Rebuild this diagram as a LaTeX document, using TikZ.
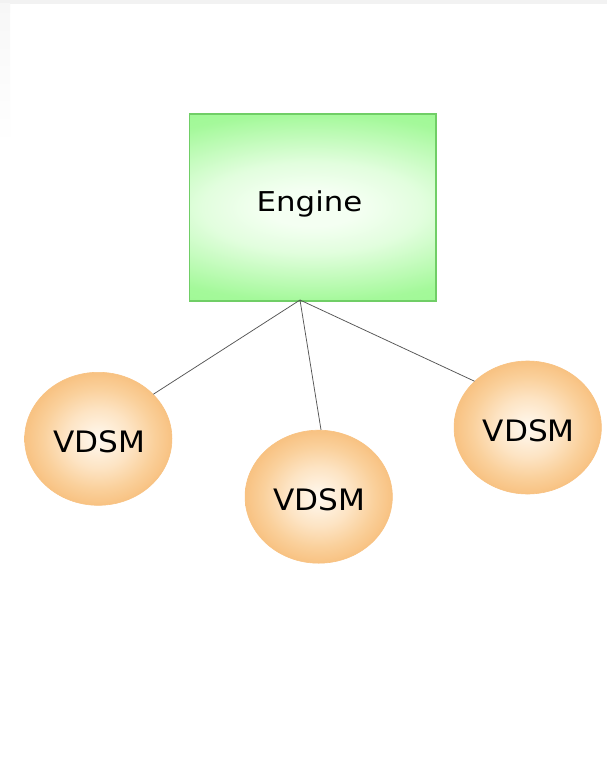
\documentclass[tikz,border=0pt]{standalone}
\usepackage{fontspec}
\setmainfont{DejaVu Sans}
\usetikzlibrary{shapes.geometric}

\definecolor{greenCore}{RGB}{244,255,242}
\definecolor{greenSoft}{RGB}{226,254,222}
\definecolor{greenRim}{RGB}{164,249,154}
\definecolor{greenCorner}{RGB}{154,247,144}
\definecolor{greenLine}{RGB}{112,206,102}
\definecolor{peachEdge}{RGB}{248,194,130}
\definecolor{peachOuter}{RGB}{250,208,155}
\definecolor{peachMid}{RGB}{253,228,196}
\definecolor{peachCore}{RGB}{255,249,240}
\definecolor{linkGray}{RGB}{85,85,85}
\definecolor{paneGray}{RGB}{242,242,242}
\definecolor{paneSide}{RGB}{247,247,247}

% soft glow for the VDSM discs: light core, peach rim
\pgfdeclareradialshading{vdsmglow}{\pgfpoint{0bp}{0bp}}{%
  color(0bp)=(peachCore); color(11bp)=(peachMid);
  color(19bp)=(peachOuter); color(25bp)=(peachEdge);
  color(50bp)=(peachEdge)}

% light centre fading to green towards the edges of the engine box
\pgfdeclareradialshading{engineglow}{\pgfpoint{0bp}{0bp}}{%
  color(0bp)=(greenCore); color(5bp)=(greenCore);
  color(12bp)=(greenSoft); color(25bp)=(greenRim);
  color(34bp)=(greenCorner); color(50bp)=(greenCorner)}

\begin{document}
\begin{tikzpicture}[x=1pt,y=-1pt,
  enginebox/.style={rectangle, draw=greenLine, line width=1.1pt,
    minimum width=246.5pt, minimum height=187pt, inner sep=0pt,
    path picture={\shade[shading=engineglow]
      ([xshift=-230pt,yshift=-94pt]path picture bounding box.center) rectangle
      ([xshift=230pt,yshift=94pt]path picture bounding box.center);}},
  vdsmdisc/.style={ellipse, draw=peachEdge, line width=0.6pt,
    shading=vdsmglow, minimum width=147.3pt, minimum height=133pt,
    inner sep=0pt},
  caption/.style={anchor=base, inner sep=0pt, text=black},
  enginefont/.style={font=\fontsize{27.3}{33}\selectfont},
  vdsmfont/.style={font=\fontsize{29.5}{35}\selectfont},
  link/.style={draw=linkGray, line width=0.75pt}]

\useasboundingbox (0,0) rectangle (607,773);
\fill[white] (0,0) rectangle (607,773);

% window edges along the top and left
\fill[paneGray] (0,0) rectangle (607,4);
\shade[top color=paneSide, bottom color=white] (0,4) rectangle (10,145);

% engine box
\node[enginebox] (engine) at (312.7,207.5) {};
\node[caption, enginefont] (enginetext) at (309.5,211.7) {\scalebox{1.13}[1]{Engine}};

% hosts
\node[vdsmdisc] (v1) at (98.3,438.8) {};
\node[vdsmdisc] (v2) at (318.7,496.7) {};
\node[vdsmdisc] (v3) at (527.7,427.5) {};

\node[caption, vdsmfont] (v1text) at (99.0,452.0) {\scalebox{1.056}[1]{VDSM}};
\node[caption, vdsmfont] (v2text) at (319.2,510.7) {\scalebox{1.056}[1]{VDSM}};
\node[caption, vdsmfont] (v3text) at (528.7,441.7) {\scalebox{1.056}[1]{VDSM}};

% links from the engine to each host
\coordinate (hub) at (300,300);
\draw[link] (hub) -- (v1.39);
\draw[link] (hub) -- (v2.88);
\draw[link] (hub) -- (v3.139);
\end{tikzpicture}
\end{document}
